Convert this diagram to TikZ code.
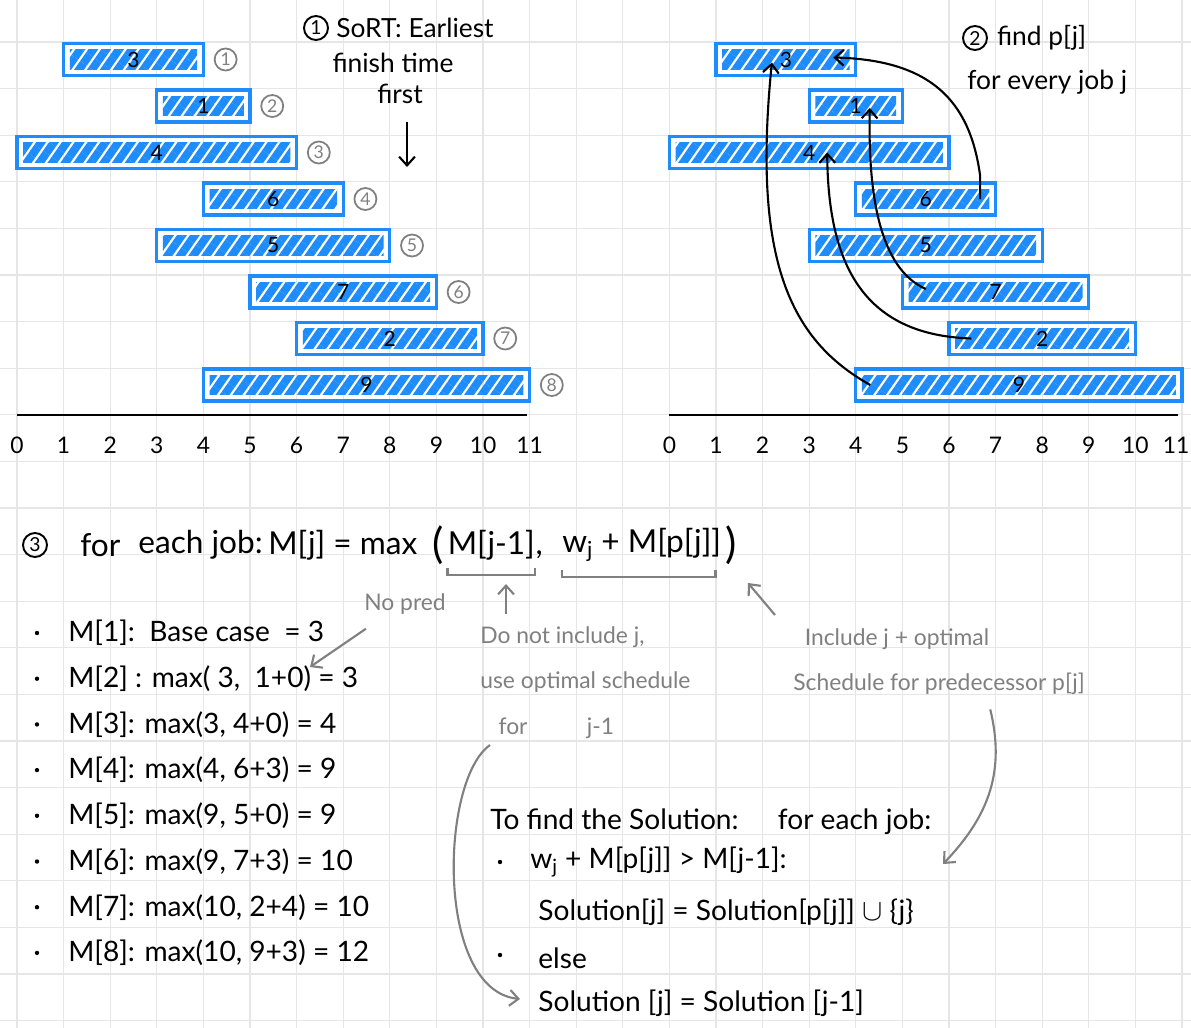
\documentclass[tikz,border=0pt]{standalone}
\usepackage{fontspec}
\setmainfont{Lato}
\usetikzlibrary{positioning, calc, arrows.meta, patterns.meta}
\definecolor{jobblue}{RGB}{30,140,250}
\definecolor{pencil}{RGB}{128,128,128}
\definecolor{gridgray}{RGB}{230,230,230}

\begin{document}
\begin{tikzpicture}[x=0.02cm, y=-0.02cm,
	  gridline/.style={draw=gridgray, line width=0.6pt},
	  jobbar/.style={
	  	rectangle,
	  	draw=jobblue,
	  	line width=1.8pt,
	  	inner sep=0pt,
	  	minimum height=0.64cm,
	  	font=\fontsize{12}{12}\selectfont,
	  	path picture={\fill[pattern={Lines[angle=55,distance=6pt,line width=4.6pt]}, pattern color=jobblue]
	  		([xshift=3.5pt,yshift=-3.5pt]path picture bounding box.north west) rectangle
	  		([xshift=-3.5pt,yshift=3.5pt]path picture bounding box.south east);}
	  },
	  rank/.style={
		  circle,
		  draw=pencil,
		  text=pencil,
		  line width=1pt,
		  inner sep=0.5pt,
		  minimum size=0.44cm,
		  font=\fontsize{10}{10}\selectfont
	  },
	  stepnum/.style={
		  circle,
		  draw,
		  line width=1.1pt,
		  inner sep=0.5pt,
		  minimum size=0.48cm,
		  font=\fontsize{11}{11}\selectfont
	  },
	  tick/.style={font=\fontsize{13}{13}\selectfont},
	  title/.style={font=\fontsize{15}{18}\selectfont, inner sep=0pt, align=center},
	  head/.style={font=\fontsize{18}{18}\selectfont, inner sep=0pt},
	  hand/.style={font=\fontsize{16}{16}\selectfont, inner sep=0pt},
	  note/.style={text=pencil, font=\fontsize{13}{26}\selectfont, inner sep=0pt, align=left},
	  axisline/.style={line width=1.7pt},
	  pen/.style={line width=1.2pt, -{Straight Barb[length=5pt,width=9pt]}},
	  pencilline/.style={draw=pencil, line width=1.2pt},
	  pencilarrow/.style={draw=pencil, line width=1.2pt, -{Straight Barb[length=5pt,width=9pt]}}]
	% Paper
	\fill[white] (0,0) rectangle (1191,1028);
	\useasboundingbox (0,0) rectangle (1191,1028);
	\foreach \k in {0,...,25}
		\draw[gridline] ({17+46.6*\k},0) -- ++(0,1028);
	\foreach \k in {0,...,21}
		\draw[gridline] (0,{42+46.6*\k}) -- ++(1191,0);

	% Step 1: jobs sorted by finish time
	\foreach \r/\s/\f/\j in {1/1/4/3, 2/3/5/1, 3/0/6/4, 4/4/7/6, 5/3/8/5, 6/5/9/7, 7/6/10/2, 8/4/11/9} {
		\node[jobbar, minimum width={(\f-\s)*0.932cm}] (l\j) at ({17+23.3*(\s+\f)},{13+46.5*\r}) {\j};
		\node[rank, right=5pt of l\j] (rank\r) {\r};
	}
	\draw[axisline] (17,415) -- (527,415);
	\foreach \k in {0,...,11}
		\node[tick] (lt\k) at ({17+46.6*\k},445) {\k};

	\node[stepnum] (s1) at (316,28) {1};
	\node[title, right=4pt of s1] (s1a) {SoRT: Earliest};
	\node[title] (s1b) at (393,63) {finish time};
	\node[title] (s1c) at (400,94) {first};
	\coordinate (sortend) at (407,167);
	\draw[pen] (sortend |- s1c.south) ++(0,18) -- (sortend);

	% Step 2: predecessors
	\foreach \r/\s/\f/\j in {1/1/4/3, 2/3/5/1, 3/0/6/4, 4/4/7/6, 5/3/8/5, 6/5/9/7, 7/6/10/2, 8/4/11/9}
		\node[jobbar, minimum width={(\f-\s)*0.932cm}] (r\j) at ({669.4+23.3*(\s+\f)},{13+46.5*\r}) {\j};
	\draw[axisline] (669,415) -- (1178,415);
	\foreach \k in {0,...,11}
		\node[tick] (rt\k) at ({min(669.4+46.6*\k,1176)},445) {\k};

	\draw[pen] ($(r6.east)+(-17,0)$) -- ++(0,-23) .. controls (970,100) and (930,60) .. ($(r3.east)+(-24,-2)$);
	\draw[pen] ($(r7.west)+(25,-3)$) .. controls (878,268) and (868,190) .. ($(r1.center)+(14,2)$);
	\draw[pen] ($(r2.west)+(24,0)$) .. controls (860,335) and (828,260) .. ($(r4.center)+(18,0)$);
	\draw[pen] ($(r9.west)+(16,0)$) .. controls (790,340) and (752,260) .. ($(r3.center)+(-14,3)$);

	\node[stepnum] (s2) at (975,38) {2};
	\node[title, right=5pt of s2] (s2a) {find p[j]};
	\node[title, anchor=west] (s2b) at (967,82) {for every job j};

	% Step 3: recurrence
	\node[stepnum] (s3) at (35,545) {3};
	\node[head, anchor=west] (hfor) at (80,545) {for};
	\node[head, anchor=west] (hjob) at (138,545) {each job:};
	\node[head, anchor=west] (hmax) at (268,545) {M[j] = max};
	\node[head, font=\fontsize{24}{24}\selectfont, anchor=west] (hopen) at (432,545) {(};
	\node[head, right=2pt of hopen] (hprev) {M[j-1]};
	\node[head, anchor=base west] (hcomma) at (hprev.base east) {,};
	\node[head, anchor=west] (hinc) at (562,545) {w\textsubscript{j} + M[p[j]]};
	\node[head, font=\fontsize{24}{24}\selectfont, right=2pt of hinc] (hclose) {)};

	\draw[pencilline] ($(hprev.south west)+(0,8)$) -- ++(0,7) -| ($(hprev.south east)+(0,8)$);
	\draw[pencilline] ($(hinc.south west)+(0,8)$) -- ++(0,7) -| ($(hinc.south east)+(-6,8)$);

	\foreach \n/\txt [count=\k] in {1/{M[1]:\ \ Base case\ \ = 3}, 2/{M[2] : max( 3,\ \ 1+0) = 3},
		3/{M[3]: max(3, 4+0) = 4}, 4/{M[4]: max(4, 6+3) = 9}, 5/{M[5]: max(9, 5+0) = 9},
		6/{M[6]: max(9, 7+3) = 10}, 7/{M[7]: max(10, 2+4) = 10}, 8/{M[8]: max(10, 9+3) = 12}} {
		\fill (37,{633+45.7*(\k-1)}) circle (2.2);
		\node[hand, anchor=west] (m\n) at (68,{633+45.7*(\k-1)}) {\txt};
	}

	\node[note, font=\fontsize{13}{13}\selectfont] (nopred) at (405,604) {No pred};
	\coordinate (nopredtip) at (310,667);
	\draw[pencilarrow] ($(nopred.south west)+(2,14)$) -- (nopredtip);

	\node[note, anchor=north west] (notprev) at (480,626) {Do not include j,\\use optimal schedule\\\hspace{0.8em}for\hspace{2.6em}j-1};
	\node[note, anchor=north west] (incpred) at (793,628) {\hspace{0.5em}Include j + optimal\\Schedule for predecessor p[j]};
	\coordinate (prevtip) at (506,584);
	\coordinate (inctip) at (748,583);
	\draw[pencilarrow] (prevtip |- notprev.north) ++(0,-12) -- (prevtip);
	\draw[pencilarrow] ($(incpred.north west)+(-18,-13)$) -- (inctip);

	% Reading back the solution
	\node[hand, anchor=west] (soltitle) at (490,822) {To find the Solution:\hspace{1.4em}for each job:};
	\fill (500,862) circle (2.2);
	\node[hand, anchor=west] (solcond) at (530,862) {w\textsubscript{j} + M[p[j]] > M[j-1]:};
	\node[hand, anchor=west] (soltake) at (538,912) {Solution[j] = Solution[p[j]] $\cup$ \{j\}};
	\fill (500,955) circle (2.2);
	\node[hand, anchor=west] (elsecase) at (538,958) {else};
	\node[hand, anchor=west] (solelse) at (538,1003) {Solution [j] = Solution [j-1]};

	\coordinate (condtip) at (943,864);
	\draw[pencilarrow] ($(notprev.south west)+(10,6)$) .. controls (440,780) and (435,990) .. ($(solelse.west)+(-18,-4)$);
	\draw[pencilarrow] ($(incpred.south east)+(-95,14)$) .. controls (1005,770) and (990,815) .. (condtip);
\end{tikzpicture}
\end{document}
